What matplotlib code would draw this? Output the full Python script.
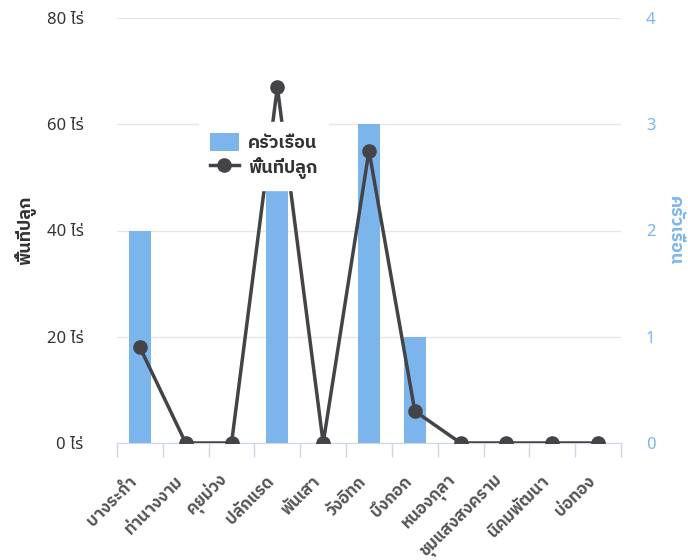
import matplotlib
matplotlib.use('Agg')
import matplotlib.pyplot as plt
from matplotlib.lines import Line2D
from matplotlib.patches import Patch
import numpy as np

# datos
tambon = ['บางระกำ', 'ท่านางงาม', 'คุยม่วง', 'ปลักแรด', 'พันเสา', 'วังอิทก',
          'บึงกอก', 'หนองกุลา', 'ชุมแสงสงคราม', 'นิคมพัฒนา', 'บ่อทอง']
krua_ruean = [2, 0, 0, 3, 0, 3, 1, 0, 0, 0, 0]
phuenthi = [18, 0, 0, 67, 0, 55, 6, 0, 0, 0, 0]
ticks_rai = [0, 20, 40, 60, 80]
ticks_hh = [0, 1, 2, 3, 4]

plt.rcParams['font.family'] = ['Noto Sans Thai', 'DejaVu Sans']
bold_font = ['IBM Plex Sans Thai', 'DejaVu Sans']

fig = plt.figure(figsize=(6.88, 5.6), dpi=100)
ax2 = fig.add_axes([117 / 688, 1 - 443 / 560, 504 / 688, 425 / 560])
ax = ax2.twinx()
# la linea va encima de las barras
ax.set_zorder(ax2.get_zorder() + 1)
ax.patch.set_visible(False)

x = np.arange(len(tambon))

# barras - ครัวเรือน (eje derecho)
ax2.bar(x, krua_ruean, width=0.48, color='#7cb5ec', zorder=2)
ax2.set_ylim(0, 4)
ax2.set_yticks(ticks_hh)
ax2.set_axisbelow(True)
ax2.grid(axis='y', color='#e6e6e6', linewidth=1, zorder=0)
ax2.yaxis.tick_right()
ax2.yaxis.set_label_position('right')
ax2.tick_params(axis='y', length=0, pad=18, labelsize=12, labelcolor='#7cb5ec')
ax2.set_ylabel('ครัวเรือน', color='#7cb5ec', fontsize=13, fontweight='bold',
               family=bold_font, rotation=270, labelpad=20)

# linea - พื้นที่ปลูก (eje izquierdo)
ax.plot(x, phuenthi, color='#434348', linewidth=2.5, marker='o', markersize=9.5)
ax.set_ylim(0, 80)
ax.set_yticks(ticks_rai)
ax.set_yticklabels([f'{v} ไร่' for v in ticks_rai])
ax.yaxis.tick_left()
ax.yaxis.set_label_position('left')
ax.tick_params(axis='y', length=0, pad=24, labelsize=12, labelcolor='#333333')
ax.set_ylabel('พื้นที่ปลูก', color='#333333', fontsize=13, fontweight='bold',
              family=bold_font, labelpad=8)

# eje x
ax2.set_xlim(-0.5, len(tambon) - 0.5)
ax2.set_xticks(x)
ax2.set_xticklabels(tambon, rotation=45, ha='right', va='bottom', rotation_mode='anchor',
                    fontsize=12, fontweight='bold', family=bold_font, color='#555555')
ax2.set_xticks(np.arange(len(tambon) + 1) - 0.5, minor=True)
ax2.tick_params(axis='x', which='major', length=0, pad=30)
ax2.tick_params(axis='x', which='minor', length=10, color='#ccd6eb', width=1)

for a in (ax, ax2):
    for s in ['top', 'left', 'right', 'bottom']:
        a.spines[s].set_visible(False)
ax2.spines['bottom'].set_visible(True)
ax2.spines['bottom'].set_color('#ccd6eb')

# leyenda
handles = [Patch(facecolor='#7cb5ec'),
           Line2D([0], [0], color='#434348', linewidth=2.5, marker='o', markersize=9.5)]
leg = ax.legend(handles, ['ครัวเรือน', 'พื้นที่ปลูก'], loc='upper left',
                bbox_to_anchor=(190 / 688, 1 - 113 / 560), bbox_transform=fig.transFigure,
                frameon=True, fancybox=False, framealpha=1, edgecolor='white',
                prop={'weight': 'bold', 'size': 13, 'family': bold_font},
                handlelength=1.6, handleheight=1.2, handletextpad=0.5,
                labelspacing=0.25, borderpad=0.6)
for t in leg.get_texts():
    t.set_color('#333333')

fig.savefig('out.png', dpi=100)
